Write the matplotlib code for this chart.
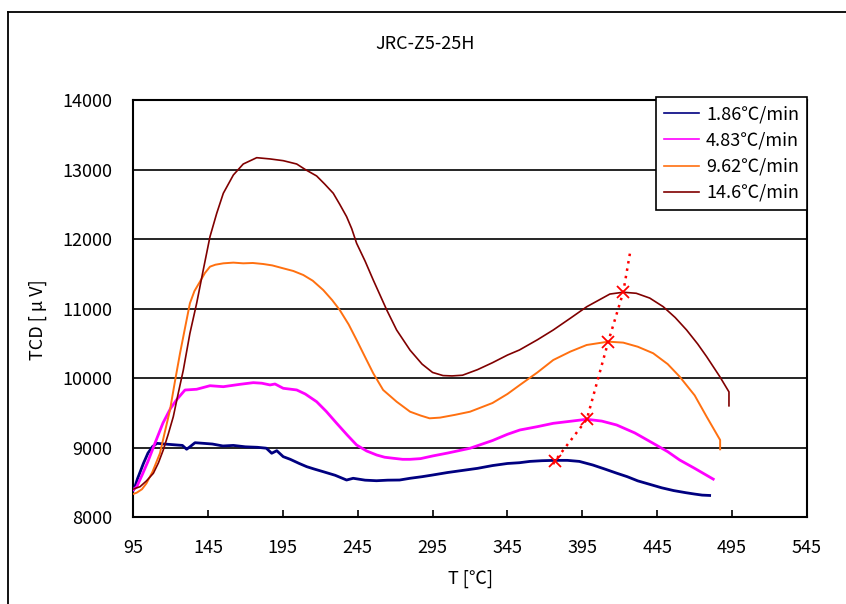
import matplotlib
matplotlib.use("Agg")
import matplotlib.pyplot as plt
from matplotlib.lines import Line2D

plt.rcParams['font.family'] = ['Noto Sans CJK JP', 'DejaVu Sans']

# ---- data ----
t_186 = [95, 96, 98, 102, 105, 108, 111, 116, 122, 128, 130.8, 133, 136.4, 142, 148, 155, 162, 170, 178,
         184, 187.6, 191, 195.3, 200, 206, 211, 216, 222, 230, 237.6, 242, 250, 257.6, 265, 273, 280, 288,
         295, 305, 315, 325, 335, 345, 353, 360, 368, 376.7, 385, 393, 402, 410, 418, 425, 432, 440, 448,
         456, 464, 470, 475, 480]
v_186 = [8380, 8417, 8550, 8773, 8920, 9012, 9060, 9050, 9040, 9030, 8975, 9010, 9069, 9060, 9050, 9022,
         9030, 9010, 9003, 8990, 8917, 8954, 8868, 8830, 8770, 8724, 8690, 8652, 8600, 8532, 8557, 8530,
         8522, 8530, 8532, 8557, 8580, 8604, 8640, 8670, 8700, 8740, 8770, 8781, 8800, 8810, 8815, 8815,
         8800, 8748, 8690, 8630, 8580, 8520, 8470, 8420, 8380, 8350, 8330, 8315, 8310]

t_483 = [95, 97.5, 101, 105, 110, 115, 120, 124, 129.7, 137.5, 146.4, 155.3, 166.4, 175.3, 181, 186.5,
         189.8, 195.3, 204.3, 210, 217.6, 224, 231, 238, 244.3, 251, 257.7, 263, 268.8, 275, 280, 287, 295,
         305, 320, 335, 345, 353.3, 365, 375.6, 388, 397.9, 408, 417.9, 430, 442.3, 452, 460, 470, 478, 482.4]
v_483 = [8390, 8436, 8600, 8800, 9080, 9352, 9560, 9684, 9827, 9838, 9889, 9875, 9909, 9933, 9925, 9900,
         9914, 9852, 9828, 9770, 9659, 9520, 9348, 9180, 9036, 8950, 8892, 8860, 8845, 8830, 8830, 8840,
         8878, 8920, 8989, 9100, 9190, 9252, 9300, 9348, 9380, 9406, 9380, 9324, 9210, 9060, 8940, 8820,
         8700, 8600, 8545]

t_962 = [95, 97.5, 101, 104, 108, 113, 116, 119.7, 123, 126.4, 130, 133, 136, 139.7, 143, 146.4, 150,
         155.3, 162, 168.6, 175, 182, 188, 195.3, 202, 208.7, 215, 222, 228, 233, 239, 244.3, 250, 255.4,
         262, 271, 280, 287, 293, 300, 310, 320, 335, 345, 353.3, 365, 375.6, 387, 397.9, 412.3, 422.3,
         432, 442.3, 452, 460, 470, 478, 485.7, 487, 487]
v_962 = [8330, 8350, 8400, 8485, 8650, 8917, 9200, 9540, 9950, 10356, 10750, 11075, 11250, 11386, 11510,
         11602, 11630, 11650, 11660, 11650, 11655, 11640, 11620, 11578, 11540, 11482, 11400, 11266, 11120,
         10979, 10770, 10547, 10300, 10068, 9828, 9659, 9515, 9460, 9420, 9430, 9470, 9515, 9640, 9770,
         9900, 10080, 10259, 10380, 10475, 10523, 10509, 10450, 10356, 10200, 10019, 9750, 9443, 9156,
         9108, 8974]

t_146 = [95, 99.7, 104, 108.6, 112, 115.2, 118.5, 121.9, 125, 128.6, 133, 137.5, 141.9, 146.4, 150.9,
         155.3, 162, 168.6, 177.6, 186.5, 195.3, 204.3, 210, 217.6, 223, 228.7, 233, 237.6, 241, 244.3,
         250, 255.4, 260, 264.4, 271, 280, 288, 295, 302, 308, 315, 325, 335, 345, 353, 365, 375.6, 387,
         398, 413.4, 422.3, 431, 440, 449, 457, 464.6, 472, 478, 486.8, 492.9, 492.9]
v_146 = [8400, 8436, 8520, 8629, 8780, 8964, 9190, 9443, 9760, 10115, 10643, 11075, 11554, 12034, 12370,
         12658, 12921, 13079, 13170, 13152, 13127, 13079, 13000, 12907, 12790, 12658, 12500, 12322, 12150,
         11938, 11680, 11410, 11190, 10979, 10691, 10400, 10200, 10080, 10035, 10030, 10040, 10120, 10220,
         10330, 10403, 10550, 10691, 10860, 11026, 11208, 11234, 11219, 11150, 11026, 10870, 10691, 10490,
         10307, 10019, 9800, 9600]

# peak positions (x markers) and the dotted guide through them
peak_t = [376.7, 398.0, 412.3, 422.3]
peak_v = [8806, 9406, 10523, 11234]
guide_t = [375.5, 376.7, 398.0, 412.3, 422.3, 427.0]
guide_v = [8760, 8806, 9406, 10523, 11234, 11820]

labels = ["1.86℃/min", "4.83℃/min", "9.62℃/min", "14.6℃/min"]
colors = ["#000080", "#FF00FF", "#FF7010", "#800000"]
widths = [2.0, 2.0, 1.4, 1.2]

x_ticks = [95, 145, 195, 245, 295, 345, 395, 445, 495, 545]
y_ticks = [8000, 9000, 10000, 11000, 12000, 13000, 14000]

fig = plt.figure(figsize=(8.46, 6.04), dpi=100)
ax = fig.add_axes([133 / 846, 1 - 517 / 604, (807 - 133) / 846, (517 - 100) / 604])

series = [(t_186, v_186), (t_483, v_483), (t_962, v_962), (t_146, v_146)]
for (t, v), lab, c, w in zip(series, labels, colors, widths):
    ax.plot(t, v, color=c, linewidth=w, label=lab, zorder=3)

ax.plot(guide_t, guide_v, color="red", linestyle=(0, (1, 2.0)), linewidth=1.8, zorder=4)
ax.plot(peak_t, peak_v, linestyle="none", marker="x", color="red", markersize=9,
        markeredgewidth=1.3, zorder=5)

ax.set_xlim(95, 545)
ax.set_ylim(8000, 14000)
ax.set_xticks(x_ticks)
ax.set_yticks(y_ticks)
ax.yaxis.grid(True, color="black", linewidth=1.2)
ax.set_axisbelow(True)
ax.tick_params(axis="x", direction="in", length=5, width=1.2, pad=16, labelsize=13)
ax.tick_params(axis="y", direction="in", length=0, pad=15, labelsize=13)
for s in ax.spines.values():
    s.set_linewidth(1.5)
    s.set_color("black")

leg = ax.legend(loc="upper right", bbox_to_anchor=(1.0, 1.006), borderaxespad=0,
                fontsize=13, frameon=True, fancybox=False, handlelength=1.9,
                handletextpad=0.4, labelspacing=0.45, borderpad=0.45)
leg.get_frame().set_edgecolor("black")
leg.get_frame().set_linewidth(1.2)
leg.get_frame().set_alpha(1)
for h in leg.get_lines():
    h.set_linewidth(1.2)

fig.text(425 / 846, 1 - 44 / 604, "JRC-Z5-25H", ha="center", va="center", fontsize=13)
fig.text(470 / 846, 1 - 579 / 604, "T [℃]", ha="center", va="center", fontsize=13)
fig.text(38 / 846, 1 - 320 / 604, "TCD [ μ V]", ha="center", va="center", rotation=90, fontsize=13)

# outer chart-area frame (cut off at the right and bottom)
fig.add_artist(Line2D([8 / 846, 8 / 846], [0, 1 - 12 / 604], color="black", linewidth=1.3))
fig.add_artist(Line2D([8 / 846, 1], [1 - 12 / 604, 1 - 12 / 604], color="black", linewidth=1.3))

fig.savefig("out.png", dpi=100)
